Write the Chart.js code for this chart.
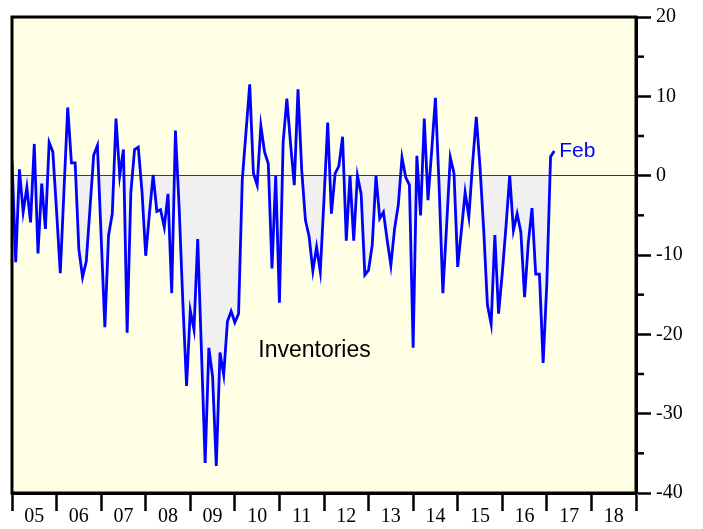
<!DOCTYPE html>
<html>
<head>
<meta charset="utf-8">
<script src="https://cdn.jsdelivr.net/npm/chart.js@4/dist/chart.umd.min.js"></script>
<style>
  html, body { margin: 0; padding: 0; background: #fff; }
  #wrap { width: 703px; height: 529px; position: relative; }
</style>
</head>
<body>
<div id="wrap"><canvas id="chart"></canvas></div>
<script>
// monthly values, Jan 2005 onward (one array per year)
const y2005 = [1.8, -10.9, 0.8, -4.6, -1.5, -5.9, 4.0, -9.8, -1.0, -6.7, 4.2, 3.0];
const y2006 = [-4.5, -12.3, -1.8, 8.6, 1.6, 1.6, -9.3, -12.8, -10.8, -4.1, 2.6, 3.8];
const y2007 = [-7.7, -19.1, -7.5, -4.8, 7.2, 0.0, 3.3, -19.8, -2.1, 3.3, 3.6, -2.0];
const y2008 = [-10.1, -4.8, 0.1, -4.5, -4.3, -6.5, -2.3, -14.8, 5.7, -4.0, -16.0, -26.5];
const y2009 = [-17.0, -19.4, -8.0, -22.0, -36.2, -21.7, -25.3, -36.6, -22.3, -25.1, -18.4, -17.1];
const y2010 = [-18.5, -17.4, -0.5, 5.5, 11.5, 0.3, -1.2, 6.3, 3.0, 1.5, -11.7, 0.0];
const y2011 = [-16.0, 4.2, 9.7, 4.0, -1.2, 10.9, 0.7, -5.6, -7.7, -12.0, -9.0, -12.1];
const y2012 = [-3.0, 6.7, -4.8, 0.3, 1.2, 4.9, -8.2, 0.0, -8.2, 0.0, -2.3, -12.5];
const y2013 = [-11.9, -8.7, 0.0, -5.4, -4.6, -8.1, -11.3, -6.7, -3.7, 2.3, -0.2, -1.2];
const y2014 = [-21.7, 2.5, -5.0, 7.2, -3.1, 3.2, 9.8, -1.4, -14.8, -6.4, 2.3, 0.3];
const y2015 = [-11.5, -6.9, -2.1, -5.2, 1.5, 7.4, 1.1, -6.9, -16.3, -18.7, -7.5, -17.4];
const y2016 = [-12.3, -6.4, 0.0, -6.9, -4.8, -7.1, -15.3, -8.5, -4.1, -12.4, -12.4, -23.6];
const y2017 = [-13.5, 2.4, 3.1];

const yearLabels = ['05', '06', '07', '08', '09', '10', '11', '12', '13', '14', '15', '16', '17', '18'];
const yTicks = [-40, -30, -20, -10, 0, 10, 20];
const yMinorTicks = [-35, -25, -15, -5, 5, 15];
const lastLabel = 'Feb';
const seriesName = 'Inventories';

const values = [].concat(y2005, y2006, y2007, y2008, y2009, y2010, y2011,
  y2012, y2013, y2014, y2015, y2016, y2017);
const points = values.map((v, i) => ({ x: i, y: v }));

const chartDecor = {
  id: 'chartDecor',
  beforeDraw(chart) {
    const { ctx, chartArea: a } = chart;
    ctx.save();
    ctx.fillStyle = '#ffffe6';
    ctx.fillRect(a.left, a.top, a.right - a.left, a.bottom - a.top);
    ctx.restore();
  },
  afterDraw(chart) {
    const { ctx, chartArea: a } = chart;
    const xs = chart.scales.x;
    const ys = chart.scales.y;
    ctx.save();
    // frame
    ctx.strokeStyle = '#000';
    ctx.lineWidth = 3;
    ctx.strokeRect(a.left, a.top, a.right - a.left, a.bottom - a.top);
    // minor ticks on the right axis
    ctx.lineWidth = 2.5;
    yMinorTicks.forEach((v) => {
      const py = ys.getPixelForValue(v);
      ctx.beginPath();
      ctx.moveTo(a.right, py);
      ctx.lineTo(a.right + 8, py);
      ctx.stroke();
    });
    // text labels
    ctx.font = '21px "Liberation Sans", Arial, sans-serif';
    ctx.textBaseline = 'middle';
    ctx.fillStyle = '#0000ff';
    const last = points[points.length - 1];
    ctx.fillText(lastLabel, xs.getPixelForValue(last.x) + 5, ys.getPixelForValue(last.y));
    ctx.fillStyle = '#000';
    ctx.font = '23px "Liberation Sans", Arial, sans-serif';
    ctx.fillText(seriesName, xs.getPixelForValue(66.3), ys.getPixelForValue(-22.1));
    ctx.restore();
  },
};

new Chart(document.getElementById('chart'), {
  type: 'line',
  data: {
    datasets: [
      {
        label: seriesName,
        data: points,
        borderColor: '#0000ff',
        borderWidth: 2.8,
        pointRadius: 0,
        tension: 0,
        fill: { target: 'origin', above: 'rgba(0,0,0,0)', below: '#f0f0f0' },
      },
    ],
  },
  options: {
    responsive: true,
    maintainAspectRatio: false,
    animation: false,
    layout: { padding: { left: 12, top: 14, right: 0, bottom: 0 } },
    plugins: {
      legend: { display: false },
      tooltip: { enabled: false },
    },
    scales: {
      x: {
        type: 'linear',
        min: 0,
        max: 168,
        afterFit: (scale) => { scale.height = 36; },
        afterBuildTicks: (scale) => {
          const t = [];
          for (let v = 0; v <= 168; v += 6) t.push({ value: v });
          scale.ticks = t;
        },
        ticks: {
          autoSkip: false,
          maxRotation: 0,
          padding: -6,
          color: '#000',
          font: { family: '"Liberation Serif", "Times New Roman", serif', size: 20 },
          callback: (v) => (v % 12 === 6 ? yearLabels[(v - 6) / 12] : ''),
        },
        grid: {
          drawOnChartArea: false,
          tickLength: 18,
          tickWidth: 2.5,
          tickColor: (c) => (c.tick && c.tick.value % 12 === 0 ? '#000' : 'rgba(0,0,0,0)'),
        },
        border: { display: true, color: '#000', width: 3 },
      },
      y: {
        position: 'right',
        min: -40,
        max: 20,
        afterFit: (scale) => { scale.width = 67; },
        afterBuildTicks: (scale) => {
          scale.ticks = yTicks.map((v) => ({ value: v }));
        },
        ticks: {
          padding: 5,
          color: '#000',
          font: { family: '"Liberation Serif", "Times New Roman", serif', size: 20 },
        },
        grid: {
          drawOnChartArea: true,
          tickLength: 15,
          tickWidth: 2.5,
          tickColor: '#000',
          lineWidth: 1,
          color: (c) => (c.tick && c.tick.value === 0 ? '#333' : 'rgba(0,0,0,0)'),
        },
        border: { display: true, color: '#000', width: 3 },
      },
    },
  },
  plugins: [chartDecor],
});
</script>
</body>
</html>
